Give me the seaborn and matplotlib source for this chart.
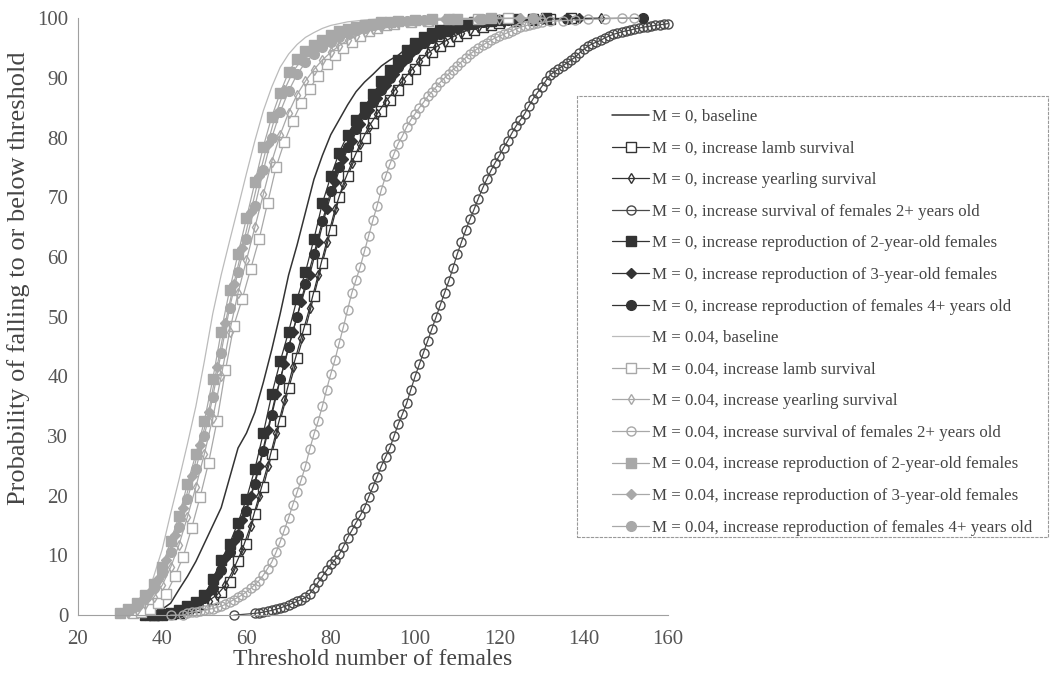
import pandas as pd
import matplotlib.pyplot as plt
import matplotlib.patches as mpatches
import seaborn as sns

# ---- data: threshold (x) vs cumulative probability (%) ----
# M = 0
m0_base_x = [36, 38, 40, 42, 44, 46, 48, 50, 52, 54, 56, 58, 60, 62, 64, 66, 68, 70, 72, 74,
             76, 78, 80, 82, 84, 86, 88, 90, 92, 94, 96, 98, 100, 104, 108, 112, 116, 120, 124]
m0_base_y = [0, 0.3, 1, 2, 4.3, 6.5, 9, 12, 15, 18, 23, 28, 30.5, 34, 39, 44.5, 50.5, 57, 62, 67.5,
             73, 77, 80.5, 83, 85.5, 87.7, 89.3, 90.6, 92, 93, 93.8, 95, 96.2, 97.6, 98.5, 99.2, 99.6, 99.9, 100]

m0_lamb_x = [38, 40, 42, 44, 46, 48, 50, 52, 54, 56, 58, 60, 62, 64, 66, 68, 70, 72, 74, 76, 78, 80,
             82, 84, 86, 88, 90, 92, 94, 96, 98, 100, 102, 104, 106, 108, 110, 112, 114, 116, 118, 120,
             124, 128, 132, 137]
m0_lamb_y = [0, 0.1, 0.2, 0.4, 0.8, 1.3, 1.9, 2.7, 3.8, 5.6, 9, 12, 17, 21.5, 27, 32.5, 38, 43, 48, 53.5,
             59, 64.5, 70, 73.5, 77, 80, 82.5, 84.5, 86.3, 88, 89.8, 91.5, 93, 94.3, 95.3, 96.2, 97, 97.6,
             98.1, 98.5, 98.9, 99.2, 99.5, 99.7, 99.85, 100]

m0_year_x = [39, 41, 43, 45, 47, 49, 51, 53, 55, 57, 59, 61, 63, 65, 67, 69, 71, 73, 75, 77, 79, 81,
             83, 85, 87, 89, 91, 93, 95, 97, 99, 101, 103, 105, 107, 109, 111, 113, 115, 117, 121, 125,
             131, 144]
m0_year_y = [0, 0.1, 0.3, 0.6, 1.1, 1.7, 2.4, 3.4, 5, 7.8, 11, 15, 20, 25, 30.5, 36, 41.5, 46.5, 51.5,
             57, 62.5, 68, 72.3, 75.8, 79, 81.8, 84, 86, 87.8, 89.5, 91.2, 92.8, 94.1, 95.2, 96.1, 96.9,
             97.6, 98.1, 98.6, 99, 99.4, 99.7, 99.9, 100]

m0_surv_x = [57, 62, 63, 64, 65, 66, 67, 68, 69, 70, 71, 72, 73, 74, 75, 76, 77, 78, 79, 80, 81, 82,
             83, 84, 85, 86, 87, 88, 89, 90, 91, 92, 93, 94, 95, 96, 97, 98, 99, 100, 101, 102, 103,
             104, 105, 106, 107, 108, 109, 110, 111, 112, 113, 114, 115, 116, 117, 118, 119, 120, 121,
             122, 123, 124, 125, 126, 127, 128, 129, 130, 131, 132, 133, 134, 135, 136, 137, 138, 139,
             140, 141, 142, 143, 144, 145, 146, 147, 148, 149, 150, 151, 152, 153, 154, 155, 156, 157,
             158, 159, 160]
m0_surv_y = [0, 0.3, 0.4, 0.5, 0.65, 0.8, 1.0, 1.2, 1.45, 1.7, 2.0, 2.3, 2.6, 3.0, 3.6, 4.5, 5.5, 6.5,
             7.5, 8.5, 9.3, 10.2, 11.5, 13.0, 14.2, 15.5, 16.7, 18.0, 19.8, 21.5, 23.2, 25.0, 26.5, 28.0,
             30.0, 32.0, 33.7, 35.5, 37.8, 40.0, 42.0, 44.0, 46.0, 48.0, 50.0, 52.0, 54.0, 56.0, 58.2,
             60.5, 62.5, 64.5, 66.3, 68.0, 69.8, 71.5, 73.0, 74.5, 75.8, 77.0, 78.3, 79.5, 80.8, 82.0,
             83.0, 84.0, 85.3, 86.5, 87.5, 88.5, 89.5, 90.5, 91.0, 91.5, 92.0, 92.5, 93.0, 93.5, 94.2,
             94.8, 95.3, 95.7, 96.0, 96.3, 96.7, 97.0, 97.3, 97.5, 97.7, 97.9, 98.0, 98.2, 98.3, 98.5,
             98.6, 98.7, 98.8, 98.9, 99.0, 99.1]

m0_rep2_x = [36, 38, 40, 42, 44, 46, 48, 50, 52, 54, 56, 58, 60, 62, 64, 66, 68, 70, 72, 74, 76, 78,
             80, 82, 84, 86, 88, 90, 92, 94, 96, 98, 100, 102, 104, 106, 108, 110, 112, 114, 116, 118,
             120, 124, 128, 131]
m0_rep2_y = [0, 0.1, 0.2, 0.4, 0.9, 1.5, 2.2, 3.4, 6, 9.2, 12, 15.5, 19.5, 24.5, 30.5, 37, 42.5, 47.5,
             53, 57.5, 63, 69, 73.5, 77.5, 80.5, 83, 85.2, 87.3, 89.5, 91.3, 93, 94.6, 95.9, 96.8, 97.5,
             98, 98.4, 98.8, 99.1, 99.3, 99.5, 99.6, 99.7, 99.85, 99.95, 100]

m0_rep3_x = [37, 39, 41, 43, 45, 47, 49, 51, 53, 55, 57, 59, 61, 63, 65, 67, 69, 71, 73, 75, 77, 79,
             81, 83, 85, 87, 89, 91, 93, 95, 97, 99, 101, 103, 105, 107, 109, 111, 113, 115, 117, 121,
             125, 130, 139]
m0_rep3_y = [0, 0.1, 0.2, 0.5, 1.0, 1.6, 2.4, 3.8, 6.5, 9.5, 12.5, 16, 20, 25, 31, 37, 42, 47.5, 52.5,
             57, 62.5, 68, 72.5, 76.5, 79.5, 82.3, 84.6, 86.7, 88.8, 90.7, 92.5, 94.1, 95.4, 96.4, 97.2,
             97.8, 98.3, 98.7, 99, 99.3, 99.5, 99.7, 99.85, 99.95, 100]

m0_rep4_x = [36, 38, 40, 42, 44, 46, 48, 50, 52, 54, 56, 58, 60, 62, 64, 66, 68, 70, 72, 74, 76, 78,
             80, 82, 84, 86, 88, 90, 92, 94, 96, 98, 100, 102, 104, 106, 108, 110, 112, 114, 116, 118,
             122, 128, 136, 154]
m0_rep4_y = [0, 0, 0.1, 0.3, 0.6, 1.1, 1.8, 2.8, 4.5, 7.5, 10.5, 13.5, 17.5, 22, 27.5, 33.5, 39.5, 45,
             50, 55.5, 60.5, 66, 71, 75, 78.5, 81.5, 84, 86, 88, 90, 91.8, 93.4, 94.8, 95.8, 96.7, 97.4,
             97.9, 98.4, 98.8, 99.1, 99.3, 99.5, 99.7, 99.85, 99.95, 100]

# M = 0.04
m4_base_x = [30, 32, 34, 36, 38, 40, 42, 44, 46, 48, 50, 52, 54, 56, 58, 60, 62, 64, 66, 68, 70, 72,
             74, 76, 78, 80, 84, 88, 92, 96, 100, 110, 120, 130]
m4_base_y = [0, 0.4, 1.1, 2.2, 6.5, 11, 17, 22.7, 28.7, 35, 42.5, 50.5, 57, 62.7, 68.3, 74, 79.5, 84.5,
             88.5, 91.8, 94, 95.6, 96.8, 97.6, 98.3, 98.8, 99.4, 99.7, 99.9, 100, 100, 100, 100, 100]

m4_lamb_x = [33, 35, 37, 39, 41, 43, 45, 47, 49, 51, 53, 55, 57, 59, 61, 63, 65, 67, 69, 71, 73, 75,
             77, 79, 81, 83, 85, 87, 89, 91, 93, 95, 99, 103, 108, 115, 122]
m4_lamb_y = [0.3, 0.6, 1.1, 2.0, 3.6, 6.5, 9.8, 14.6, 19.8, 25.5, 32.5, 41, 48.5, 53, 58, 63, 69, 75,
             79.3, 82.8, 85.8, 88.2, 90.4, 92.4, 93.9, 95.1, 96.1, 97, 97.8, 98.4, 98.8, 99.1, 99.4,
             99.6, 99.8, 99.9, 100]

m4_year_x = [32, 34, 36, 38, 40, 42, 44, 46, 48, 50, 52, 54, 56, 58, 60, 62, 64, 66, 68, 70, 72, 74,
             76, 78, 80, 82, 84, 86, 88, 90, 92, 94, 96, 100, 104, 110, 120, 130]
m4_year_y = [0.4, 0.9, 1.8, 3, 5, 8, 11.8, 16.5, 21.5, 27, 33, 40, 47.5, 54, 59.5, 65, 70.5, 76, 80.5,
             84.2, 87.2, 89.5, 91.4, 93, 94.3, 95.4, 96.3, 97, 97.7, 98.2, 98.6, 98.9, 99.2, 99.5, 99.7,
             99.85, 99.95, 100]

m4_surv_x = [42, 45, 46, 47, 48, 49, 50, 51, 52, 53, 54, 55, 56, 57, 58, 59, 60, 61, 62, 63, 64, 65,
             66, 67, 68, 69, 70, 71, 72, 73, 74, 75, 76, 77, 78, 79, 80, 81, 82, 83, 84, 85, 86, 87, 88,
             89, 90, 91, 92, 93, 94, 95, 96, 97, 98, 99, 100, 101, 102, 103, 104, 105, 106, 107, 108,
             109, 110, 111, 112, 113, 114, 115, 116, 117, 118, 119, 120, 121, 122, 123, 124, 125, 126,
             127, 128, 129, 130, 132, 135, 138, 141, 145, 149, 152]
m4_surv_y = [0, 0, 0.3, 0.5, 0.6, 0.7, 0.8, 1.0, 1.1, 1.3, 1.5, 1.8, 2.2, 2.6, 3.0, 3.4, 3.9, 4.5, 5.1,
             5.8, 6.7, 7.8, 8.9, 10.5, 12.3, 14.3, 16.3, 18.5, 20.6, 22.7, 25.0, 27.8, 30.3, 32.5, 35.0,
             37.8, 40.4, 42.8, 45.6, 48.3, 51.2, 54.0, 56.2, 58.4, 61.0, 63.6, 66.2, 68.6, 71.3, 73.5,
             75.5, 77.3, 79.0, 80.3, 81.8, 83.0, 84.0, 85.0, 85.9, 86.9, 87.7, 88.5, 89.3, 90.0, 90.7,
             91.4, 92.0, 92.7, 93.4, 94.0, 94.5, 95.0, 95.5, 95.9, 96.3, 96.7, 97.0, 97.3, 97.6, 97.9,
             98.2, 98.5, 98.7, 98.9, 99.1, 99.2, 99.3, 99.5, 99.6, 99.7, 99.8, 99.9, 100, 100]

m4_rep2_x = [30, 32, 34, 36, 38, 40, 42, 44, 46, 48, 50, 52, 54, 56, 58, 60, 62, 64, 66, 68, 70, 72,
             74, 76, 78, 80, 82, 84, 86, 88, 90, 92, 94, 96, 100, 104, 110, 118]
m4_rep2_y = [0.4, 1.0, 2.0, 3.3, 5.3, 8, 12.4, 16.6, 22, 27, 32.5, 39.5, 47.5, 54.5, 60.5, 66.5, 72.5,
             78.5, 83.5, 87.5, 91, 93.2, 94.5, 95.5, 96.4, 97.2, 97.8, 98.2, 98.6, 98.9, 99.1, 99.3,
             99.4, 99.5, 99.7, 99.8, 99.9, 100]

m4_rep3_x = [31, 33, 35, 37, 39, 41, 43, 45, 47, 49, 51, 53, 55, 57, 59, 61, 63, 65, 67, 69, 71, 73,
             75, 77, 79, 81, 83, 85, 87, 89, 91, 93, 97, 101, 107, 115, 125]
m4_rep3_y = [0.5, 1.2, 2.3, 3.8, 6, 9.2, 13.5, 18, 23.3, 28.5, 34, 41.5, 49, 55.5, 61.5, 67.5, 73.5, 79,
             84, 88, 91, 93, 94.5, 95.6, 96.5, 97.2, 97.8, 98.3, 98.7, 99, 99.2, 99.4, 99.6, 99.7, 99.85,
             99.95, 100]

m4_rep4_x = [30, 32, 34, 36, 38, 40, 42, 44, 46, 48, 50, 52, 54, 56, 58, 60, 62, 64, 66, 68, 70, 72,
             74, 76, 78, 80, 82, 84, 86, 88, 90, 92, 94, 98, 102, 108, 116, 128]
m4_rep4_y = [0.3, 0.8, 1.6, 2.8, 4.5, 7, 10.5, 14.8, 19.5, 24.5, 30, 36.5, 44, 51.5, 57.5, 63, 68.5,
             74.5, 80, 84.3, 87.8, 90.6, 92.6, 94, 95.2, 96.1, 96.9, 97.5, 98, 98.4, 98.8, 99.1, 99.3,
             99.5, 99.7, 99.85, 99.95, 100]

labels = [
    "M = 0, baseline",
    "M = 0, increase lamb survival",
    "M = 0, increase yearling survival",
    "M = 0, increase survival of females 2+ years old",
    "M = 0, increase reproduction of 2-year-old females",
    "M = 0, increase reproduction of 3-year-old females",
    "M = 0, increase reproduction of females 4+ years old",
    "M = 0.04, baseline",
    "M = 0.04, increase lamb survival",
    "M = 0.04, increase yearling survival",
    "M = 0.04, increase survival of females 2+ years old",
    "M = 0.04, increase reproduction of 2-year-old females",
    "M = 0.04, increase reproduction of 3-year-old females",
    "M = 0.04, increase reproduction of females 4+ years old",
]
xs = [m0_base_x, m0_lamb_x, m0_year_x, m0_surv_x, m0_rep2_x, m0_rep3_x, m0_rep4_x,
      m4_base_x, m4_lamb_x, m4_year_x, m4_surv_x, m4_rep2_x, m4_rep3_x, m4_rep4_x]
ys = [m0_base_y, m0_lamb_y, m0_year_y, m0_surv_y, m0_rep2_y, m0_rep3_y, m0_rep4_y,
      m4_base_y, m4_lamb_y, m4_year_y, m4_surv_y, m4_rep2_y, m4_rep3_y, m4_rep4_y]

# long-form table
rows = []
for lab, xx, yy in zip(labels, xs, ys):
    for a, b in zip(xx, yy):
        rows.append((lab, a, b))
df = pd.DataFrame(rows, columns=["series", "threshold", "prob"])

# ---- styles ----
dark = "#333333"
dark_c = "#4a4a4a"
light = "#a8a8a8"
light_line = "#bbbbbb"

def style(col, marker, face, ms, lw=0.9):
    return dict(color=col, marker=marker, markersize=ms, markerfacecolor=face,
                markeredgecolor=col, markeredgewidth=1.0, linewidth=lw)

styles = [
    dict(color=dark, marker=None, linewidth=1.1),
    style(dark, "s", "white", 6.5),
    style(dark, "d", "none", 5.5),
    style(dark_c, "o", "none", 6.5),
    style(dark, "s", dark, 7),
    style(dark, "D", dark, 5.5),
    style(dark, "o", dark, 7),
    dict(color=light_line, marker=None, linewidth=0.9),
    style(light, "s", "white", 6.5),
    style(light, "d", "none", 5.5),
    style(light, "o", "none", 6.5),
    style(light, "s", light, 7),
    style(light, "D", light, 5.5),
    style(light, "o", light, 7),
]

sns.set_style("white")
plt.rcParams["font.family"] = ["Liberation Serif", "DejaVu Serif"]

fig = plt.figure(figsize=(10.52, 6.76), dpi=100)
ax = fig.add_axes([0.074, 0.090, 0.561, 0.883])

for lab, st in zip(labels, styles):
    sub = df[df["series"] == lab]
    sns.lineplot(data=sub, x="threshold", y="prob", ax=ax, label=lab,
                 errorbar=None, sort=True, clip_on=False, **st)

ax.set_xlim(20, 160)
ax.set_ylim(0, 100)
ax.set_xticks(range(20, 161, 20))
ax.set_yticks(range(0, 101, 10))
ax.tick_params(axis="both", direction="out", length=4, width=0.8, color="#999999",
               labelsize=15, labelcolor="#555555")
ax.tick_params(axis="y", pad=3)
ax.tick_params(axis="x", pad=7)
for s in ["top", "right"]:
    ax.spines[s].set_visible(False)
for s in ["left", "bottom"]:
    ax.spines[s].set_color("#a0a0a0")
    ax.spines[s].set_linewidth(0.8)
    ax.spines[s].set_linestyle((0, (3, 1)))

ax.set_xlabel("Threshold number of females", fontsize=17, color="#444444", labelpad=0)
ax.set_ylabel("Probability of falling to or below threshold", fontsize=19,
              color="#444444")
ax.yaxis.set_label_coords(-0.081, 0.565)

# legend: frame drawn separately to match the wide left padding
handles, labs = ax.get_legend_handles_labels()
ax.get_legend().remove()
frame = mpatches.Rectangle((577 / 1052, 1 - 537 / 676), 471 / 1052, 441 / 676,
                           transform=fig.transFigure, fill=True, facecolor="white",
                           edgecolor="#999999", linewidth=0.8, linestyle=(0, (3, 1)),
                           zorder=3)
fig.patches.append(frame)
leg = fig.legend(handles, labs, loc="upper left", bbox_to_anchor=(612 / 1052, 1 - 109 / 676),
                 frameon=False, fontsize=12.2, handlelength=2.2, handletextpad=0.15,
                 labelspacing=0.92, borderpad=0, borderaxespad=0, labelcolor="#444444")
leg.set_zorder(4)

fig.savefig("out.png", dpi=100)
